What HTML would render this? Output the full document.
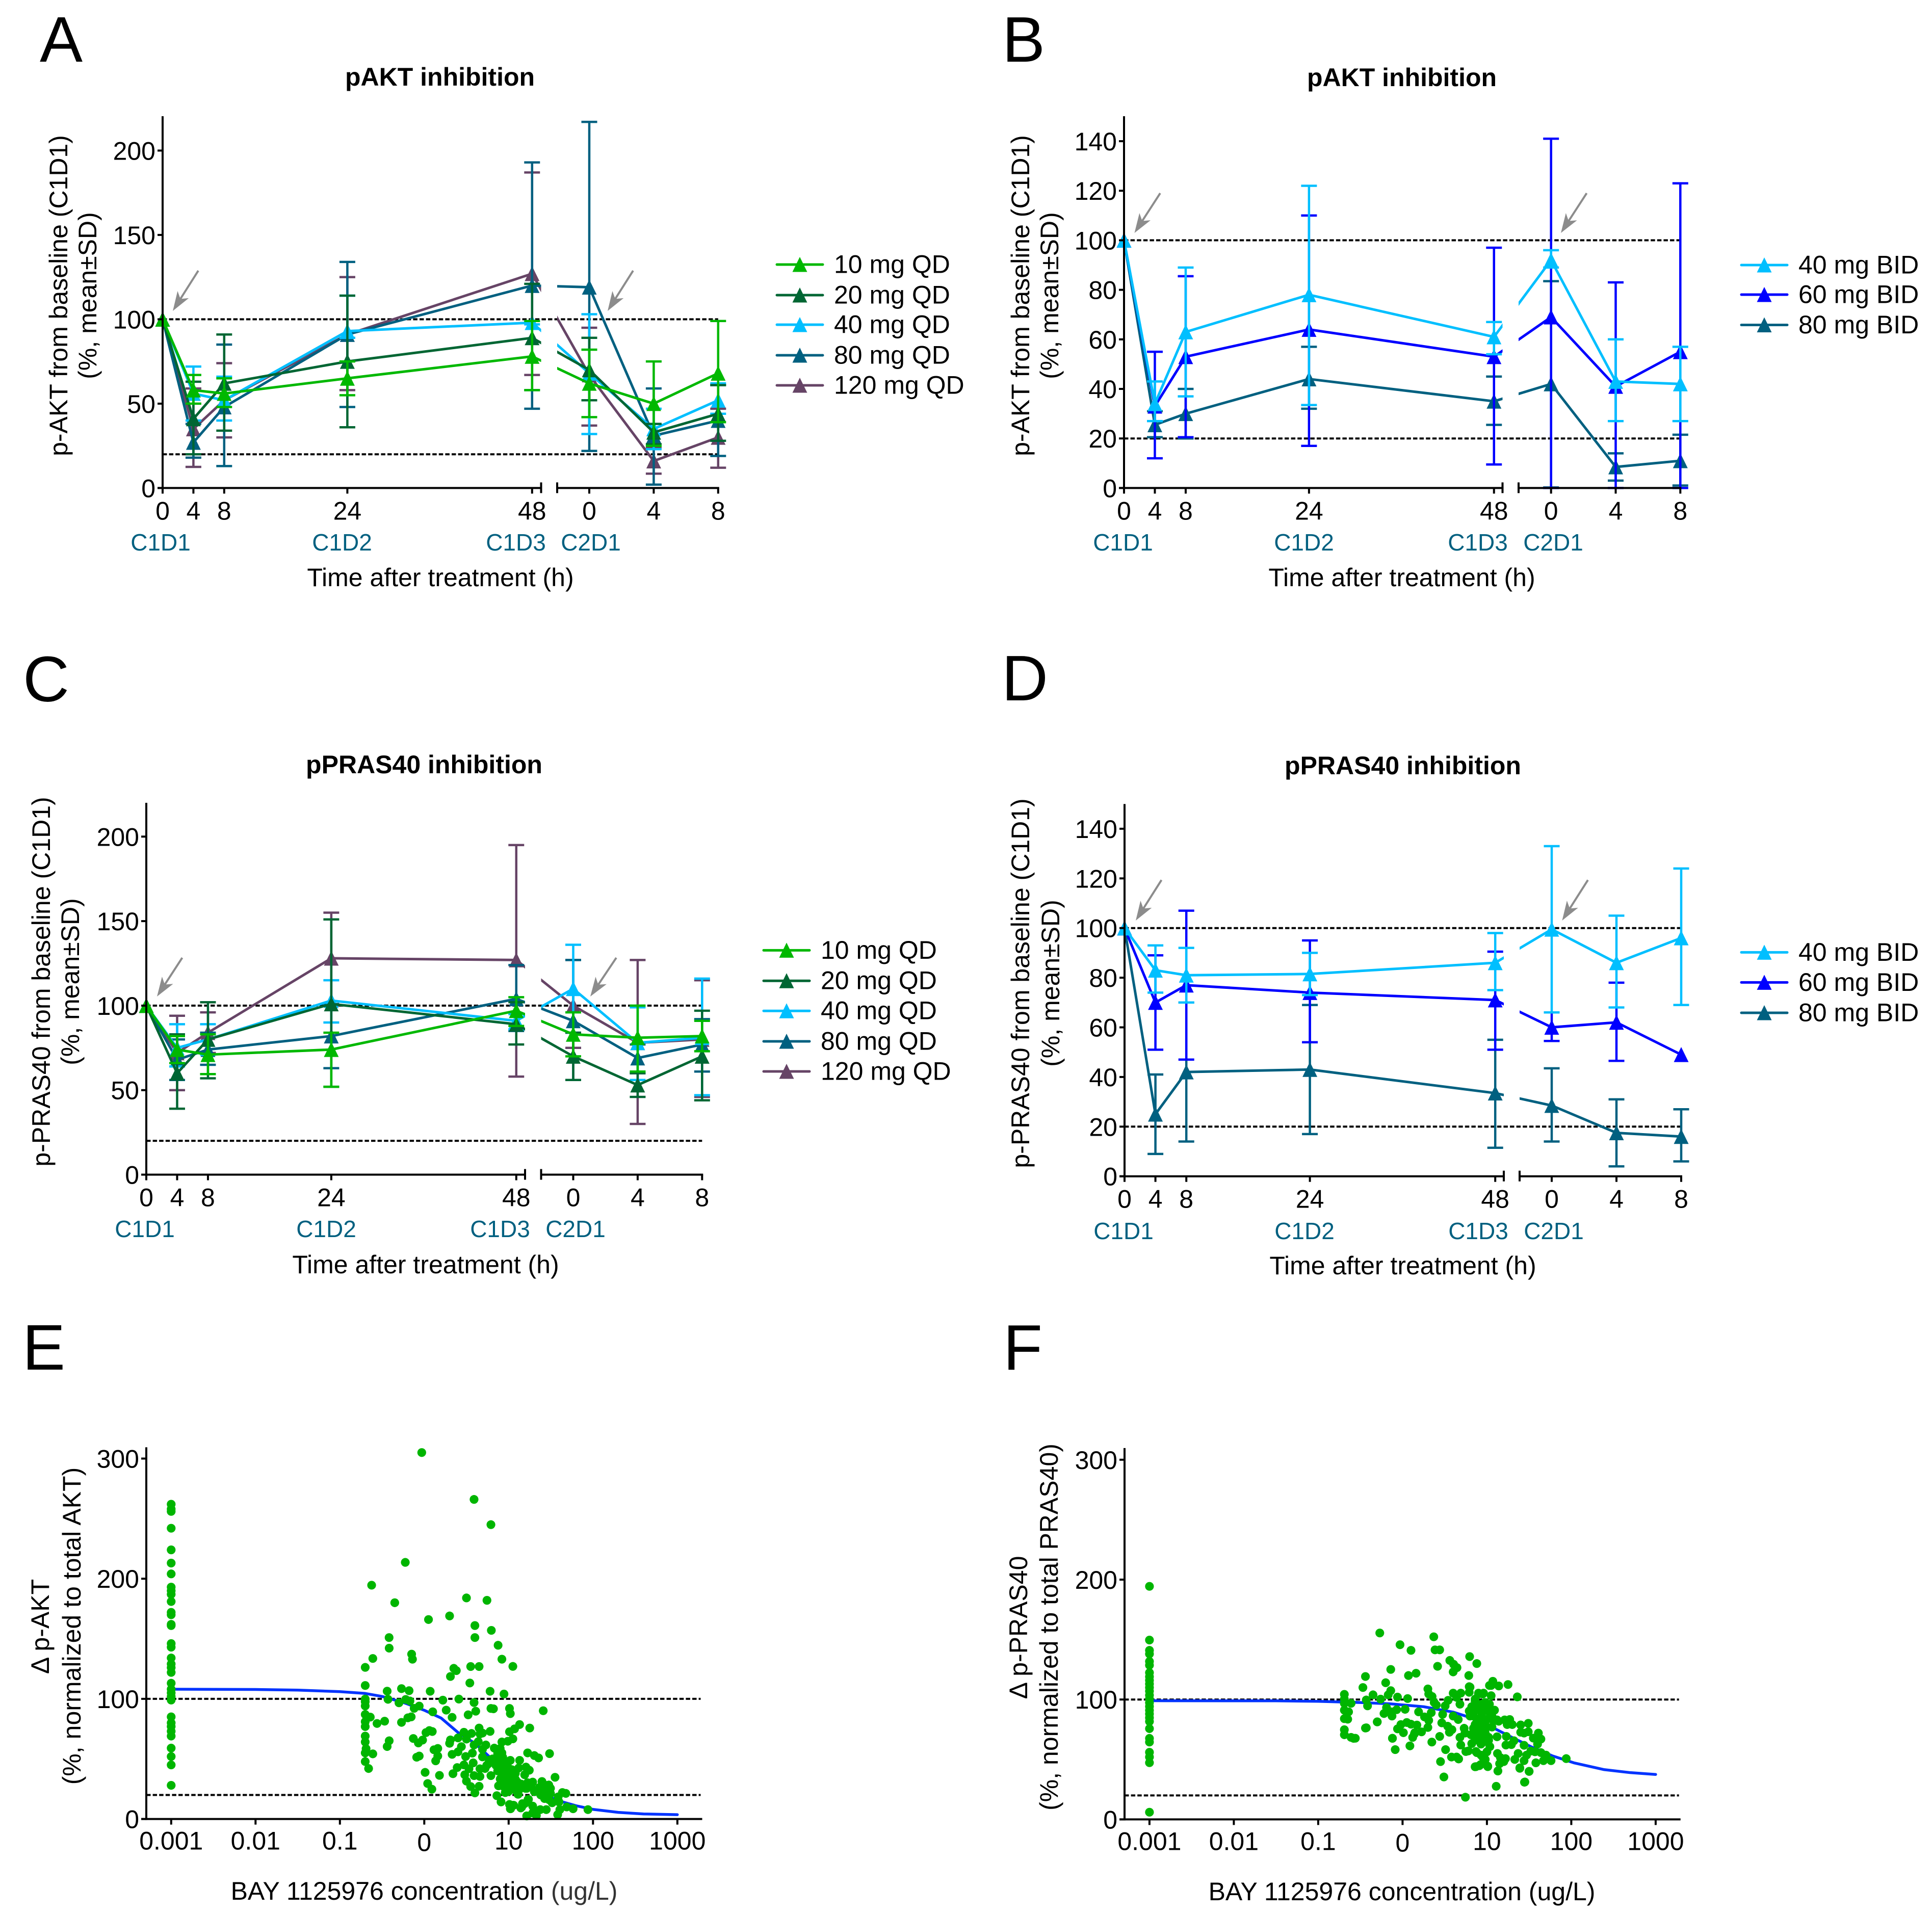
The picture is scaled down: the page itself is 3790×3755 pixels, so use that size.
<!DOCTYPE html>
<html lang="en">
<head>
<meta charset="utf-8">
<title>BAY 1125976 pAKT and pPRAS40 inhibition</title>
<style>
html,body{margin:0;padding:0;background:#fff;}
svg{display:block;}
text{font-family:"Liberation Sans",Arial,sans-serif;fill:#000;}
.letter{font-size:126px;}
.title{font-size:50px;font-weight:bold;text-anchor:middle;}
.label{font-size:50px;text-anchor:middle;}
.tick{font-size:50px;}
.visit{font-size:46px;fill:#006080;text-anchor:middle;}
</style>
</head>
<body>
<svg id="figure" xmlns="http://www.w3.org/2000/svg" width="3790" height="3755" viewBox="0 0 3790 3755">
<rect x="0" y="0" width="3790" height="3755" fill="#fff"/>

<text class="letter" x="78" y="121">A</text>
<text class="letter" x="1966" y="121">B</text>
<text class="letter" x="45" y="1376">C</text>
<text class="letter" x="1965" y="1374">D</text>
<text class="letter" x="44" y="2687">E</text>
<text class="letter" x="1968" y="2687">F</text>

<text class="title" x="863" y="168">pAKT inhibition</text>
<text class="title" x="2750" y="169">pAKT inhibition</text>
<text class="title" x="832" y="1517">pPRAS40 inhibition</text>
<text class="title" x="2752" y="1519">pPRAS40 inhibition</text>

<text class="label" transform="translate(132,580) rotate(-90)">p-AKT from baseline (C1D1)</text>
<text class="label" transform="translate(189,580) rotate(-90)">(%, mean±SD)</text>
<text class="label" transform="translate(2019,580) rotate(-90)">p-AKT from baseline (C1D1)</text>
<text class="label" transform="translate(2076,580) rotate(-90)">(%, mean±SD)</text>
<text class="label" transform="translate(98,1926) rotate(-90)">p-PRAS40 from baseline (C1D1)</text>
<text class="label" transform="translate(155,1926) rotate(-90)">(%, mean±SD)</text>
<text class="label" transform="translate(2019,1929) rotate(-90)">p-PRAS40 from baseline (C1D1)</text>
<text class="label" transform="translate(2078,1929) rotate(-90)">(%, mean±SD)</text>
<text class="label" transform="translate(96,3191) rotate(-90)">Δ p-AKT</text>
<text class="label" transform="translate(158,3190) rotate(-90)">(%, normalized to total AKT)</text>
<text class="label" transform="translate(2015,3193) rotate(-90)">Δ p-PRAS40</text>
<text class="label" transform="translate(2075,3192) rotate(-90)">(%, normalized to total PRAS40)</text>

<text class="label" x="864" y="1150">Time after treatment (h)</text>
<text class="label" x="2750" y="1150">Time after treatment (h)</text>
<text class="label" x="835" y="2498">Time after treatment (h)</text>
<text class="label" x="2752" y="2500">Time after treatment (h)</text>
<text class="label" x="832" y="3727">BAY 1125976 concentration <tspan style="fill:#333">(ug/L)</tspan></text>
<text class="label" x="2750" y="3728">BAY 1125976 concentration (ug/L)</text>

<text class="visit" x="315" y="1080">C1D1</text>
<text class="visit" x="671" y="1080">C1D2</text>
<text class="visit" x="1012" y="1080">C1D3</text>
<text class="visit" x="1159" y="1080">C2D1</text>
<text class="visit" x="2203" y="1080">C1D1</text>
<text class="visit" x="2558" y="1080">C1D2</text>
<text class="visit" x="2899" y="1080">C1D3</text>
<text class="visit" x="3047" y="1080">C2D1</text>
<text class="visit" x="284" y="2427">C1D1</text>
<text class="visit" x="640" y="2427">C1D2</text>
<text class="visit" x="981" y="2427">C1D3</text>
<text class="visit" x="1129" y="2427">C2D1</text>
<text class="visit" x="2204" y="2431">C1D1</text>
<text class="visit" x="2559" y="2431">C1D2</text>
<text class="visit" x="2900" y="2431">C1D3</text>
<text class="visit" x="3048" y="2431">C2D1</text>
</svg>

<script>
// Shared categories and ticks
const cycle1Hours = [0, 4, 8, 24, 48];
const cycle2Hours = [0, 4, 8];
const qdYTicks = [0, 50, 100, 150, 200];
const bidYTicks = [0, 20, 40, 60, 80, 100, 120, 140];
const scatterYTicks = [0, 100, 200, 300];
const scatterXLogTicks = [-3, -2, -1, 0, 1, 2, 3];
const scatterXTickLabels = ['0.001', '0.01', '0.1', '0', '10', '100', '1000'];
const referenceLevels = [100, 20];

// Panel A: pAKT QD
const aMean10 = [100, 58, 56, 65, 78, 62, 50, 68];
const aUp10 = [null, 67, 65, 75, 99, 82, 75, 99];
const aLow10 = [null, 50, 48, 55, 58, 42, 25, 39];
const aMean20 = [100, 41, 62, 75, 89, 70, 33, 44];
const aUp20 = [null, 63, 91, 114, 121, 89, 38, 61];
const aLow20 = [null, 20, 34, 36, 58, 52, 26, 28];
const aMean40 = [100, 56, 52, 93, 98, 68, 35, 52];
const aUp40 = [null, 72, 66, 114, 99, 103, 47, 62];
const aLow40 = [null, 40, 40, 89, 97, 32, 23, 44];
const aMean80 = [100, 27, 48, 91, 120, 119, 31, 40];
const aUp80 = [null, 38, 85, 134, 193, 217, 59, 61];
const aLow80 = [null, 18, 13, 48, 47, 22, 2, 19];
const aMean120 = [100, 35, 52, 91, 127, 67, 16, 30];
const aUp120 = [null, 59, 74, 125, 187, 95, 24, 47];
const aLow120 = [null, 12.5, 30, 58, 67, 37, 8.5, 12];

// Panel B: pAKT BID
const bMean40 = [100, 34, 63, 78, 61, 92, 43, 42];
const bUp40 = [null, 43, 89, 122, 67, 96, 60, 57];
const bLow40 = [null, 27, 37, 33.5, 54, 89, 27, 27];
const bMean60 = [100, 33, 53, 64, 53, 69, 41, 55];
const bUp60 = [null, 55, 85.5, 110, 97, 141, 83, 123];
const bLow60 = [null, 12, 20.5, 17, 9.5, 0, 0, 0];
const bMean80 = [100, 25.5, 30, 44, 35, 42, 8.5, 11];
const bUp80 = [null, 31, 40, 57, 45, 83.5, 14, 21.5];
const bLow80 = [null, 20.5, 20, 32, 25.5, 0.2, 3, 1];

// Panel C: pPRAS40 QD
const cMean10 = [100, 74, 71, 74, 97, 83, 81, 82];
const cUp10 = [null, 82, 83, 84, 105, 96, 100, 91];
const cLow10 = [null, 66, 59.5, 52, 88, 70, 61, 73];
const cMean20 = [100, 60, 80, 101, 89, 70, 53, 70];
const cUp20 = [null, 83, 102, 151, 102, 84, 60, 97];
const cLow20 = [null, 39, 57, 52, 77, 56, 46, 44];
const cMean40 = [100, 75, 80, 103, 91, 110, 78, 81];
const cUp40 = [null, 89, 89, 115, 95, 136, 99, 116];
const cLow40 = [null, 64, 71, 90, 86, 84, 56, 47];
const cMean80 = [100, 68, 74, 82, 104, 91, 69, 77];
const cUp80 = [null, 80, 84, 101, 124, 127, 77, 92];
const cLow80 = [null, 56, 65, 63, 85, 56, 60, 61];
const cMean120 = [100, 72, 84, 128, 127, 100, 78, 80];
const cUp120 = [null, 94, 96, 155, 195, 127, 127, 115];
const cLow120 = [null, 50, 72, 100, 58, 75, 30, 46];

// Panel D: pPRAS40 BID
const dMean40 = [100, 83, 81, 81.5, 86, 99.5, 86, 96];
const dUp40 = [null, 93, 92, 90, 98, 133, 105, 124];
const dLow40 = [null, 74, 70, 73, 75, 66, 68, 69];
const dMean60 = [100, 70, 77, 74, 71, 60, 62, 49];
const dUp60 = [null, 89, 107, 95, 90.5, 66, 78, null];
const dLow60 = [null, 51, 47, 54, 51, 54.5, 46.5, null];
const dMean80 = [100, 25, 42, 43, 33.5, 28.5, 17.5, 16];
const dUp80 = [null, 41, 70, 69, 55, 43.5, 31, 27];
const dLow80 = [null, 9, 14, 17, 11.5, 14, 4, 6];

// Panel E: exposure-response, p-AKT
const eBaselineValues = [262, 258, 256, 242, 224, 213, 204, 193, 190, 187, 181, 172, 170, 162, 161, 146, 143, 134, 129, 126, 122, 113, 108, 105, 102, 99, 85, 80, 77, 73, 69, 59, 52, 45, 28];
const eLogConc = [-.03, .59, .79, -.225, -.624, -.35, .5, .743, .05, .30, .6, .795, -.417, .60,
  -.416, -.15, -.14, -.61, -.70, .875, .92, 1.05, .55, .65, .35, .38, .31, .54, -.70, -.44, -.27, -.18, .07, .78, .945, -.70, -.70, -.70, -.43, -.30, -.22, -.17, -.12, -.06, .22, .41, .59, .10, .26, .33, .52, .61, .79, .82, 1.01, 1.02, -.70, -.64, -.70, -.70, -.56, -.47, -.27, -.195, -.155, -.70, -.70, -.69, -.70, -.61, -.70, -.66, -.416, -.44, -.13, -.07, -.02, .02, .06, .095, .115, .16, .16, .135, -.09, -.06, .01, .18, .04, .09,
  .34, .39, .47, .58, .53, .48, .50, .55, .65, .60, .31, .30, .40, .47, .56, .50, .65, .69, .66, .78, .64, .59, .44, .40, .33, .57, .49, .73, .69, .69, .83, .90, .92, .99, 1.05, 1.01, 1.07, 1.13, 1.25, 1.225, .93, .85, 1.02, 1.13, .76, .85, 1.205, 1.19, 1.12, .66, .59, .66, .79, .93, 1.01, .97, 1.07, 1.02, 1.13, 1.215, .88, .97, .86, 1.11, 1.2, .91, 1.01, 1.06, 1.02, 1.155, 1.19, 1.235, 1.215, .89, .87, .74, .90, 1.01,
  1.41, 1.305, 1.355, 1.485, 1.245, 1.55, 1.395, 1.225, 1.285, 1.476, 1.113, 1.214, 1.265, 1.365, 1.426, 1.496, 1.305, 1.113, 1.385, 1.426, 1.496, 1.637, 1.678, 1.587, 1.23, 1.426, 1.516, 1.597, 1.285, 1.164, 1.144, 1.053, 1.023, 1.375, 1.446, 1.607, 1.688, 1.764, 1.94, 1.325, 1.285, 1.214, 1.329, 1.581,
  .95, .99, 1.03, 1.07, .98, .94, 1.01, 1.09,
  .92, .96, 1.0, 1.04, 1.08, .94, .98, 1.02, 1.06, .93, .97, 1.0, 1.04, 1.08, .95, .99, 1.03, .96, 1.0, .87, .84, .81, .77, .72, .92, .95, 1.15, 1.18, 1.1, 1.12, 1.4, 1.44, 1.47, 1.38, 1.42, 1.48];
const eValues = [305, 266, 245, 213.6, 194.6, 180, 184, 182, 166, 169, 161, 157, 151, 151,
  142.2, 137.2, 133, 133.6, 126.2, 144.6, 133, 127, 126.9, 126.9, 125.4, 123.5, 118.6, 113.2, 111.1, 106.4, 108.5, 106.8, 106.3, 106.3, 104, 99.8, 97.6, 94.1, 99.6, 96.7, 99.5, 98.2, 92.1, 94, 98.9, 99.8, 96.9, 89.2, 90.6, 84.6, 86.7, 89.7, 92, 91.7, 92, 87.7, 87, 84.8, 81, 76.9, 79.5, 81.4, 80.4, 84.2, 85, 69, 64.1, 58.5, 55, 54.2, 47.8, 42, 65.1, 60.3, 67, 63.3, 65.7, 71.9, 73.6, 72.8, 57.6, 58.7, 52.4, 48.4, 51.4, 52.4, 38.8, 36.3, 29.5, 24.8,
  37.7, 42.8, 45, 46.7, 41.8, 36.8, 31.5, 27, 27.2, 21.7, 65.8, 63, 67.5, 72.2, 71.2, 66.5, 75.7, 71.5, 70.8, 72.9, 64.4, 61.6, 60.2, 55.9, 53.8, 54.8, 52, 61.6, 58, 51.7, 59, 58.7, 64.1, 64.7, 66.7, 72.6, 75, 78.6, 75.7, 55, 51.4, 50.3, 48.8, 48.8, 46, 44.6, 43.2, 36.8, 42.5, 41.8, 36.1, 35.4, 36.1, 39, 36.1, 31.9, 39, 29, 27.6, 29, 27.6, 24.1, 19.4, 20.6, 25.5, 14.2, 12.1, 11.4, 8.5, 10, 12.8, 16.3, 2.5, 48.8, 54.5, 44.6, 33.3, 41.8,
  90.1, 52.8, 50.8, 54.4, 40.6, 34.7, 31.2, 30.2, 30.7, 28.3, 26.2, 25.5, 26.9, 26.2, 27.6, 25.5, 22.7, 20.6, 19.9, 21.3, 21.3, 22, 21.3, 18.4, 16.3, 17, 13.5, 14.2, 10.7, 12.8, 9.2, 11.4, 8.5, 7.8, 7.8, 7.8, 10, 8.5, 7.8, 6.4, 5, 2.6, 2.9, 3.6,
  36.1, 39, 33.3, 30.5, 29, 33.3, 24.8, 23.4,
  43, 44, 42, 41, 38, 27, 26, 25, 27, 35, 37, 35, 37, 33, 31, 32, 30, 22, 23, 40, 47, 50, 49, 42, 55, 48, 29, 27, 31, 24, 30, 28, 24, 20, 19, 16];
const eCurveLogConc = [-3, -2, -1.5, -1, -.7, -.5, -.25, 0, .2, .4, .6, .8, 1, 1.2, 1.4, 1.6, 1.8, 2, 2.3, 2.6, 3];
const eCurveValues = [108, 107.8, 107.3, 106, 104.5, 102, 97, 90.5, 84, 72, 63, 50, 38, 29, 21, 15, 11, 8, 5.5, 4.2, 3.6];

// Panel F: exposure-response, p-PRAS40
const fBaselineValues = [194.4, 149.6, 141, 138, 131.8, 128.6, 122.4, 119, 116, 113, 110, 107, 103.6, 100.5, 97.3, 94.2, 91, 88, 84.8, 81.7, 75.7, 67.6, 64.5, 56, 52, 47.3, 6];
const fLogConc = [-.27, .37, -.03, .10, .385, .44, .795, .56, .605, .645, .60, .415, .88, -.14, -.44, .07, .16, .785, -.20, -.47, -.14, -.17, .30, .31, .35, .79, .79, 1.03, -.69, -.69, -.69, -.69, -.69, -.69, -.69, -.64, -.61, -.65, -.35, -.43, -.415, -.26, -.06, .06, -.22, -.19, -.13, -.125, -.07, .03, .19, -.30, -.44, .26, .31, .34, .375, .40, .54, .505, .475, .465, .535, .585, .555, -.02, .05, .10, .17, -.06, .01, .14, .225, .30, .44, -.12, .12, -.61, -.56,
  .60, .69, .64, .68, .60, .66, .73, .74, .79, .84, .94, .90, .95, .86, .98, 1.0, .86, .92, .81, .98, .94, .92, .68, .86,
  1.07, 1.05, 1.14, 1.25, 1.36, .80, .90, .96, 1.05, .86, .98, 1.03, 1.09, .94, .84, .80, 1.05, .99, 1.14, 1.21, 1.27, 1.24, 1.30, .90, .86, 1.40, 1.49, 1.49, 1.40, 1.44, 1.06, .98, .91, 1.02, 1.12, 1.23, 1.61, 1.55, 1.64, .82, .93, 1.035, 1.0, 1.225, 1.29, 1.32, 1.44, 1.60, .78, .88, .93, .98, 1.125, 1.37, 1.33, 1.52, 1.47, 1.57, 1.64, 1.70, 1.16, 1.22, 1.20, 1.15, 1.44, 1.58, 1.67, 1.76, 1.94, .86, .91, 1.01, 1.13, 1.39, 1.50, 1.45, 1.11,
  .49, .745, .64, -.087, .087, .347, .45, .51, .58, .69, .665, .75, .87, .925, 1.01, .87, .95, -.12, .145, -.30, -.43, -.58, 1.445, 1.50, 1.39, 1.13,
  .82, .86, .90, .94, .98, 1.02, .84, .88, .92, .96, 1.0, .86, .90, .94, .98, 1.02, 1.06, .88, .92, .96, 1.08, 1.12];
const fValues = [155.5, 152.3, 145.7, 141, 141.4, 141.4, 135.8, 132.6, 129.4, 126.6, 123, 127.7, 130, 125.1, 119.2, 120, 121.9, 120, 114, 110, 107.4, 103.9, 108.8, 104.6, 102.5, 110.7, 106, 111.7, 104.3, 100.3, 96.8, 91.1, 84, 74.8, 70.6, 89.7, 96.8, 83.6, 103.9, 99.6, 94.7, 100.3, 102, 100.8, 88.3, 93.2, 89.7, 86.2, 91.5, 91.8, 89.7, 81.3, 76.2, 85.5, 82.6, 89, 97.5, 95.4, 99.3, 94.7, 87.6, 80.5, 77.7, 74.8, 72.7, 79.1, 80.8, 79.4, 78.7, 75.5, 72.3, 71.3, 73, 76.7, 69.2, 67.7, 68.4, 68.4, 67.7,
  105.3, 105.3, 101.8, 96.1, 86.2, 83.3, 76, 72, 90.4, 86.2, 89, 104.6, 104.6, 98.9, 97.5, 83.3, 79.1, 73.4, 70.6, 70.6, 96.1, 80.5, 68.4, 69.2,
  115.2, 111.7, 111.3, 112.5, 102.2, 110.3, 105.3, 105.3, 103.2, 100.3, 97.5, 96.1, 91.1, 89, 89, 86.2, 86.9, 83.3, 81.9, 83, 83.3, 79.1, 79.1, 79.1, 75.6, 78.8, 80.1, 73.1, 72.7, 72, 77, 72, 69.2, 68.5, 68.9, 69.2, 72, 67.8, 67, 63.2, 62.8, 60.7, 56.4, 62, 62.4, 65.6, 61.8, 62.8, 57.1, 55.7, 53.6, 50, 55, 55, 50, 57, 53.6, 56.4, 55.7, 53.6, 51.5, 50.7, 48.2, 46.5, 49, 47.2, 49, 49, 50.7, 43.9, 44.8, 44.4, 40.4, 43, 40.1, 31.2, 27.6,
  35.4, 18.5, 52, 58.2, 61.3, 64.5, 48.2, 58.2, 52, 62, 50.4, 56.6, 44, 45.7, 44, 56.6, 52, 67.6, 72.3, 81.4, 76.4, 67.6, 31, 40, 42.6, 40.4,
  94, 93, 92, 94, 92, 90, 76, 77, 76, 75, 77, 66, 66, 67, 65, 66, 86, 84, 83, 84, 82, 83];
const fCurveLogConc = [-3, -1.5, -1, -.5, -.15, .25, .6, .8, 1, 1.14, 1.28, 1.52, 1.78, 2.03, 2.39, 2.7, 3];
const fCurveValues = [99, 98.9, 98.5, 97.5, 96.4, 94, 89.5, 85, 79, 74, 69, 60.7, 52.9, 47.2, 41.5, 39, 37.5];

const COLORS = {d10: '#00B800', d20: '#006633', d40: '#00BFFF', d60: '#0000FF', d80: '#006080', d120: '#664466'};
const svg = document.getElementById('figure');
const NS = 'http://www.w3.org/2000/svg';

function make(parent, tag, attrs, content) {
  const node = document.createElementNS(NS, tag);
  for (const key in attrs) node.setAttribute(key, attrs[key]);
  if (content !== undefined) node.textContent = content;
  parent.appendChild(node);
  return node;
}

function trianglePoints(cx, cy) {
  return (cx) + ',' + (cy - 15) + ' ' + (cx + 14.5) + ',' + (cy + 14.5) + ' ' + (cx - 14.5) + ',' + (cy + 14.5);
}

function drawYAxis(group, x, yOf, top, bottom, ticks) {
  const axis = make(group, 'line', {x1: x, x2: x, y1: top, y2: bottom + 2, stroke: '#000', 'stroke-width': 4});
  
  
  ticks.forEach(function (value) {
    const tick = make(group, 'line', {x1: x - 10, x2: x, y1: yOf(value), y2: yOf(value), stroke: '#000', 'stroke-width': 4});
    
    
    const label = make(group, 'text', {class: 'tick', x: x - 14, y: yOf(value) + 18, 'text-anchor': 'end'}, String(value));
    
    
  });
}

function drawReference(group, x1, x2, yOf) {
  referenceLevels.forEach(function (level) {
    const ref = make(group, 'line', {x1: x1, x2: x2, y1: yOf(level), y2: yOf(level), stroke: '#000', 'stroke-width': 4, 'stroke-dasharray': '8.5 4.1'});
    
    
  });
}

function drawArrow(group, x1, y1, x2, y2) {
  const dx = x2 - x1, dy = y2 - y1, len = Math.hypot(dx, dy);
  const ux = dx / len, uy = dy / len, px = -uy, py = ux;
  const arrow = make(group, 'g', {});
  
  
  make(arrow, 'line', {x1: x1, y1: y1, x2: x2 - ux * 20, y2: y2 - uy * 20, stroke: '#8c8c8c', 'stroke-width': 4});
  const back = function (d, w) { return (x2 - ux * d + px * w) + ',' + (y2 - uy * d + py * w); };
  make(arrow, 'polygon', {points: x2 + ',' + y2 + ' ' + back(38, 13) + ' ' + back(28, 0) + ' ' + back(38, -13), fill: '#8c8c8c'});
}

function drawTimePanel(cfg) {
  const group = make(svg, 'g', {});
  
  
  const yOf = function (v) { return cfg.y0 - v * cfg.yScale; };
  const xLeft = function (h) { return cfg.x0 + h * cfg.leftScale; };
  const xRight = function (h) { return cfg.r0 + h * cfg.rightScale; };
  const xAt = function (i) { return i < cycle1Hours.length ? xLeft(cycle1Hours[i]) : xRight(cycle2Hours[i - cycle1Hours.length]); };

  drawReference(group, cfg.x0, xRight(8), yOf);

  const clipId = cfg.name + '-clip';
  const defs = make(group, 'defs', {});
  const clip = make(defs, 'clipPath', {id: clipId});
  make(clip, 'rect', {x: 0, y: 0, width: cfg.gapStart, height: 3755});
  make(clip, 'rect', {x: cfg.gapEnd, y: 0, width: 3790 - cfg.gapEnd, height: 3755});

  cfg.series.slice().reverse().forEach(function (s) {
    const sg = make(group, 'g', {});
    
    
    s.mean.forEach(function (m, i) {
      if (s.up[i] === null || s.low[i] === null) return;
      const x = xAt(i);
      const bar = make(sg, 'path', {
        d: 'M' + x + ' ' + yOf(s.up[i]) + 'V' + yOf(s.low[i]) + 'M' + (x - 15.5) + ' ' + yOf(s.up[i]) + 'H' + (x + 15.5) + 'M' + (x - 15.5) + ' ' + yOf(s.low[i]) + 'H' + (x + 15.5),
        stroke: s.color, 'stroke-width': 4.5, fill: 'none'
      });
      
      
    });
    const path = make(sg, 'polyline', {
      points: s.mean.map(function (m, i) { return xAt(i) + ',' + yOf(m); }).join(' '),
      fill: 'none', stroke: s.color, 'stroke-width': 5, 'stroke-linejoin': 'round', 'clip-path': 'url(#' + clipId + ')'
    });
    
    
    s.mean.forEach(function (m, i) {
      const marker = make(sg, 'polygon', {points: trianglePoints(xAt(i), yOf(m)), fill: s.color});
      
      
    });
  });

  drawYAxis(group, cfg.x0, yOf, cfg.top, cfg.y0, cfg.yTicks);
  const axisLeft = make(group, 'line', {x1: cfg.x0 - 10, x2: cfg.gapStart, y1: cfg.y0, y2: cfg.y0, stroke: '#000', 'stroke-width': 4});
  
  
  const axisRight = make(group, 'line', {x1: cfg.gapEnd, x2: xRight(8) + 2, y1: cfg.y0, y2: cfg.y0, stroke: '#000', 'stroke-width': 4});
  
  
  [cfg.gapStart, cfg.gapEnd].forEach(function (x) {
    const brk = make(group, 'line', {x1: x, x2: x, y1: cfg.y0 - 11, y2: cfg.y0 + 10, stroke: '#000', 'stroke-width': 4});
    
    
  });
  const tickFor = function (x, text) {
    const tick = make(group, 'line', {x1: x, x2: x, y1: cfg.y0, y2: cfg.y0 + 11, stroke: '#000', 'stroke-width': 4});
    
    
    const label = make(group, 'text', {class: 'tick', x: x, y: cfg.y0 + 62, 'text-anchor': 'middle'}, text);
    
    
  };
  cycle1Hours.forEach(function (h) { tickFor(xLeft(h), String(h)); });
  cycle2Hours.forEach(function (h) { tickFor(xRight(h), String(h)); });

  cfg.arrows.forEach(function (a) { drawArrow(group, a[0], a[1], a[2], a[3]); });

  cfg.series.forEach(function (s, i) {
    const entry = make(group, 'g', {});
    
    
    const ly = cfg.legendY[i];
    make(entry, 'line', {x1: cfg.legendX, x2: cfg.legendX + 90, y1: ly, y2: ly, stroke: s.color, 'stroke-width': 5, 'stroke-linecap': 'round'});
    make(entry, 'polygon', {points: trianglePoints(cfg.legendX + 45, ly), fill: s.color});
    make(entry, 'text', {class: 'tick', x: cfg.legendX + 112, y: ly + 16.5}, s.label);
  });
}

function drawScatterPanel(cfg) {
  const group = make(svg, 'g', {});
  
  
  const yOf = function (v) { return cfg.y0 - v * cfg.yScale; };
  const xOf = function (logC) { return cfg.xZero + logC * cfg.decade; };

  drawReference(group, cfg.x0, cfg.xEnd - 3, yOf);

  const curve = make(group, 'polyline', {
    points: cfg.curveX.map(function (c, i) { return xOf(c) + ',' + yOf(cfg.curveY[i]); }).join(' '),
    fill: 'none', stroke: '#0033FF', 'stroke-width': 5.5, 'stroke-linejoin': 'round', 'stroke-linecap': 'round'
  });
  
  

  cfg.baseline.forEach(function (v) {
    const dot = make(group, 'circle', {cx: xOf(-3), cy: yOf(v), r: 8.6, fill: '#00B500'});
    
    
  });
  cfg.pointX.forEach(function (c, i) {
    const dot = make(group, 'circle', {cx: xOf(c), cy: yOf(cfg.pointY[i]), r: 8.6, fill: '#00B500'});
    
    
  });

  drawYAxis(group, cfg.x0, yOf, cfg.top, cfg.y0, scatterYTicks);
  const axis = make(group, 'line', {x1: cfg.x0 - 10, x2: cfg.xEnd, y1: cfg.y0, y2: cfg.y0, stroke: '#000', 'stroke-width': 4});
  
  
  scatterXLogTicks.forEach(function (c, i) {
    const tick = make(group, 'line', {x1: xOf(c), x2: xOf(c), y1: cfg.y0, y2: cfg.y0 + 11, stroke: '#000', 'stroke-width': 4});
    
    
    const text = scatterXTickLabels[i];
    const label = make(group, 'text', {class: 'tick', x: xOf(c), y: cfg.y0 + (text === '0' ? 63 : 60), 'text-anchor': 'middle'}, text);
    
    
  });
}

drawTimePanel({
  name: 'panel-a', x0: 319, y0: 957.4, yScale: 3.31, leftScale: 15.1, r0: 1156, rightScale: 31.6,
  gapStart: 1061.5, gapEnd: 1093, top: 228, yTicks: qdYTicks,
  arrows: [[389, 531, 339, 610], [1242, 531, 1192, 610]],
  legendX: 1524, legendY: [519, 579, 637, 697, 756],
  series: [
    {label: '10 mg QD', color: COLORS.d10, mean: aMean10, up: aUp10, low: aLow10},
    {label: '20 mg QD', color: COLORS.d20, mean: aMean20, up: aUp20, low: aLow20},
    {label: '40 mg QD', color: COLORS.d40, mean: aMean40, up: aUp40, low: aLow40},
    {label: '80 mg QD', color: COLORS.d80, mean: aMean80, up: aUp80, low: aLow80},
    {label: '120 mg QD', color: COLORS.d120, mean: aMean120, up: aUp120, low: aLow120}
  ]
});

drawTimePanel({
  name: 'panel-b', x0: 2205, y0: 957.4, yScale: 4.86, leftScale: 15.12, r0: 3042.7, rightScale: 31.7,
  gapStart: 2947.5, gapEnd: 2979, top: 228, yTicks: bidYTicks,
  arrows: [[2276, 379, 2225.5, 457], [3112.6, 379, 3062, 457]],
  legendX: 3416, legendY: [520, 578, 637.5],
  series: [
    {label: '40 mg BID', color: COLORS.d40, mean: bMean40, up: bUp40, low: bLow40},
    {label: '60 mg BID', color: COLORS.d60, mean: bMean60, up: bUp60, low: bLow60},
    {label: '80 mg BID', color: COLORS.d80, mean: bMean80, up: bUp80, low: bLow80}
  ]
});

drawTimePanel({
  name: 'panel-c', x0: 287, y0: 2304.5, yScale: 3.316, leftScale: 15.12, r0: 1124.5, rightScale: 31.6,
  gapStart: 1030, gapEnd: 1061.5, top: 1575, yTicks: qdYTicks,
  arrows: [[357.5, 1879, 308, 1955], [1209, 1879, 1158, 1955]],
  legendX: 1498, legendY: [1864.4, 1924.2, 1983.2, 2043, 2102],
  series: [
    {label: '10 mg QD', color: COLORS.d10, mean: cMean10, up: cUp10, low: cLow10},
    {label: '20 mg QD', color: COLORS.d20, mean: cMean20, up: cUp20, low: cLow20},
    {label: '40 mg QD', color: COLORS.d40, mean: cMean40, up: cUp40, low: cLow40},
    {label: '80 mg QD', color: COLORS.d80, mean: cMean80, up: cUp80, low: cLow80},
    {label: '120 mg QD', color: COLORS.d120, mean: cMean120, up: cUp120, low: cLow120}
  ]
});

drawTimePanel({
  name: 'panel-d', x0: 2206, y0: 2307.7, yScale: 4.87, leftScale: 15.15, r0: 3044, rightScale: 31.75,
  gapStart: 2950, gapEnd: 2981, top: 1577.4, yTicks: bidYTicks,
  arrows: [[2278.5, 1726.5, 2228, 1806], [3115, 1726.5, 3064.4, 1806]],
  legendX: 3416, legendY: [1868.4, 1927.4, 1987],
  series: [
    {label: '40 mg BID', color: COLORS.d40, mean: dMean40, up: dUp40, low: dLow40},
    {label: '60 mg BID', color: COLORS.d60, mean: dMean60, up: dUp60, low: dLow60},
    {label: '80 mg BID', color: COLORS.d80, mean: dMean80, up: dUp80, low: dLow80}
  ]
});

drawScatterPanel({
  name: 'panel-e', x0: 287, y0: 3568.6, yScale: 2.357, xZero: 832.3, decade: 165.5, xEnd: 1377.5, top: 2839.4,
  baseline: eBaselineValues, pointX: eLogConc, pointY: eValues, curveX: eCurveLogConc, curveY: eCurveValues
});

drawScatterPanel({
  name: 'panel-f', x0: 2206, y0: 3569.4, yScale: 2.352, xZero: 2751.4, decade: 165.5, xEnd: 3296.7, top: 2840.9,
  baseline: fBaselineValues, pointX: fLogConc, pointY: fValues, curveX: fCurveLogConc, curveY: fCurveValues
});
</script>
</body>
</html>
